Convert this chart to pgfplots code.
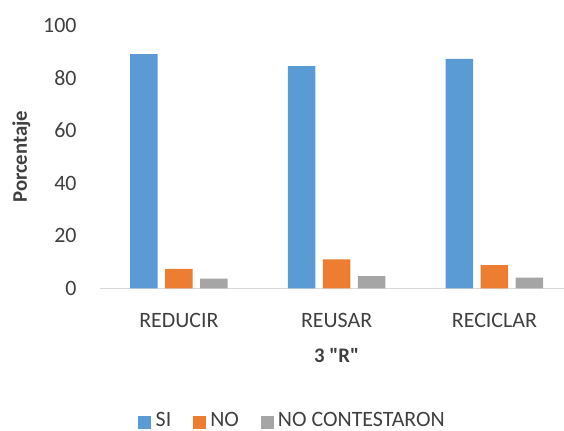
\documentclass[border=0pt]{standalone}
\usepackage{fontspec}
\setmainfont{Carlito}[Ligatures=TeXOff]
\usepackage{pgfplots}
\pgfplotsset{compat=1.18}
\definecolor{siblue}{HTML}{5B9BD5}
\definecolor{noorange}{HTML}{ED7D31}
\definecolor{ncgray}{HTML}{A5A5A5}
\definecolor{axisgray}{HTML}{D9D9D9}
\definecolor{textgray}{HTML}{404040}
\pgfplotsset{sqleg/.style={legend image code/.code={\fill[##1] (0bp,-9bp) rectangle (13bp,4bp);}}}

\begin{document}
\begin{tikzpicture}
\useasboundingbox (-100bp,-142.7bp) rectangle (464bp,288.3bp);
\begin{axis}[
    at={(0,0)}, anchor=south west,
    scale only axis,
    width=464bp, height=263.3bp,
    xmin=0.5, xmax=3.441,
    ymin=0, ymax=100,
    ybar, bar width=27.5bp,
    axis x line*=bottom, axis y line*=left,
    x axis line style={draw=axisgray, line width=0.9bp, -},
    y axis line style={draw=none},
    xtick={1,2,3},
    xticklabels={REDUCIR,REUSAR,RECICLAR},
    ytick={0,20,...,100},
    major tick length=0pt,
    /pgf/number format/assume math mode=true,
    tick label style={font=\fontsize{22}{26}\selectfont, text=textgray},
    xticklabel style={anchor=center, yshift=-31.7bp},
    yticklabel style={anchor=east, inner sep=0pt, xshift=-23.3bp},
    ylabel={Porcentaje},
    ylabel style={at={(rel axis cs:0,0.5)}, anchor=center, yshift=78.7bp,
        font=\bfseries\fontsize{20.8}{24}\selectfont, text=textgray},
    xlabel={3 "R"},
    xlabel style={at={(axis cs:2,0)}, anchor=center, yshift=-66.7bp,
        font=\bfseries\fontsize{20.8}{24}\selectfont, text=textgray},
    legend style={at={(rel axis cs:0.413,0)}, anchor=center, yshift=-132.5bp,
        draw=none, fill=none, legend columns=-1,
        nodes={inner sep=0pt, text=textgray, font=\fontsize{22}{26}\selectfont},
        /tikz/every odd column/.append style={column sep=4.3bp},
        /tikz/every even column/.append style={column sep=21.7bp}},
    sqleg,
]
\addplot[fill=siblue, draw=none, bar shift=-35bp, sqleg] coordinates {(1,88.9) (2,84.4) (3,87.1)};
\addplot[fill=noorange, draw=none, bar shift=0bp, sqleg] coordinates {(1,7.4) (2,11.0) (3,8.8)};
\addplot[fill=ncgray, draw=none, bar shift=35bp, sqleg] coordinates {(1,3.7) (2,4.6) (3,4.1)};
\legend{SI,NO,NO CONTESTARON}
\end{axis}
\end{tikzpicture}
\end{document}
